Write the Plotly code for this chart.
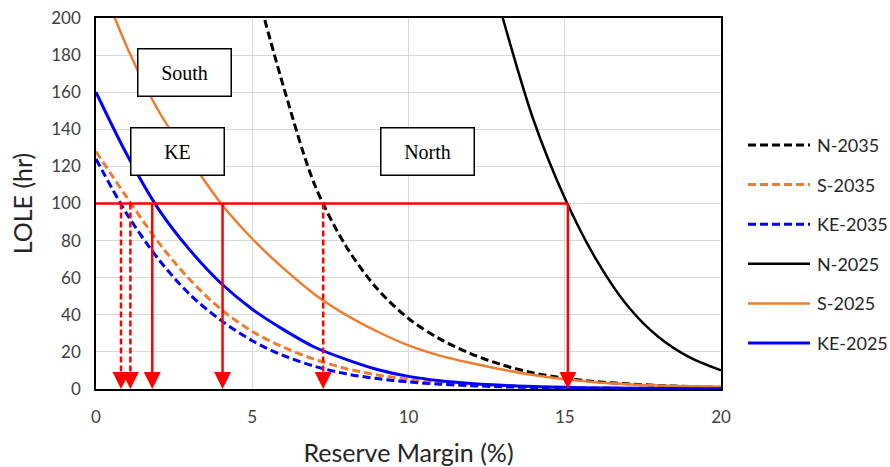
import plotly.graph_objects as go

# Reserve margin (%) grid shared by all curves
reserve_margin = list(range(21))

# LOLE (hr) for each region / study year; None where the curve is off the chart
n_2035 = [None, None, None, None, None, 224, 163, 110, 77, 54, 38, 27, 19, 13, 8.7, 5.8, 4, 2.8, 1.9, 1.3, 0.9]
s_2035 = [128, 103, 79, 59, 43, 31, 22.5, 16, 11, 7.6, 5.2, 3.6, 2.5, 1.7, 1.2, 0.8, 0.6, 0.4, 0.3, 0.2, 0.1]
ke_2035 = [124, 94, 70, 51, 37, 26, 18, 12.2, 8.2, 5.6, 3.8, 2.6, 1.8, 1.2, 0.8, 0.5, 0.4, 0.3, 0.2, 0.1, 0.1]
n_2025 = [None] * 13 + [201, 145, 103, 70, 45, 28, 17, 10]
s_2025 = [226, 184, 150, 124, 100, 81, 65, 51, 40, 31, 23.5, 18, 14, 10.5, 7.5, 5.2, 3.6, 2.6, 1.9, 1.5, 1.2]
ke_2025 = [160, 126, 97, 75, 57, 43, 32, 22.5, 16, 10.5, 6.8, 4.5, 3, 2, 1.3, 0.9, 0.6, 0.4, 0.3, 0.2, 0.1]

series_names = ["N-2035", "S-2035", "KE-2035", "N-2025", "S-2025", "KE-2025"]
series_values = [n_2035, s_2035, ke_2035, n_2025, s_2025, ke_2025]
series_colors = ["#000000", "#ED7D31", "#0000FF", "#000000", "#ED7D31", "#0000FF"]
series_dashed = [True, True, True, False, False, False]
series_widths = [3, 3, 3, 2.5, 2.5, 3]

# Reserve margin needed to reach the 100 hr LOLE criterion
criterion_lole = 100
required_margin = [0.8, 1.1, 1.8, 4.05, 7.27, 15.1]
required_dashed = [True, True, False, False, True, False]

# Region labels and their positions on the chart
region_labels = ["South", "KE", "North"]
region_x = [2.82, 2.61, 10.61]
region_y = [170.4, 128.3, 128.3]

RED = "#FF0000"
DASH = "8px,4px"

fig = go.Figure()

for name, vals, col, dashed, w in zip(series_names, series_values, series_colors,
                                       series_dashed, series_widths):
    fig.add_trace(go.Scatter(
        x=reserve_margin, y=vals, mode="lines", name=name,
        line=dict(color=col, width=w, dash=DASH if dashed else "solid",
                  shape="spline", smoothing=0.9),
        showlegend=False, hoverinfo="skip",
    ))

shapes = []
annotations = []

# Horizontal criterion line
shapes.append(dict(type="line", xref="x", yref="y", x0=0, x1=max(required_margin),
                   y0=criterion_lole, y1=criterion_lole,
                   line=dict(color=RED, width=2.5)))

# Drop lines with arrow heads down to the margin axis
for m, dashed in zip(required_margin, required_dashed):
    shapes.append(dict(type="line", xref="x", yref="y", x0=m, x1=m,
                       y0=criterion_lole, y1=4,
                       line=dict(color=RED, width=2.5,
                                 dash="6px,3px" if dashed else "solid")))
    annotations.append(dict(x=m, y=0, xref="x", yref="y", text="",
                            showarrow=True, ax=0, ay=-17,
                            arrowhead=2, arrowsize=1.7, arrowwidth=2,
                            arrowcolor=RED))

# Region label boxes
for lab, lx, ly in zip(region_labels, region_x, region_y):
    annotations.append(dict(x=lx, y=ly, xref="x", yref="y", text=lab,
                            showarrow=False, width=88, height=42,
                            bgcolor="white", bordercolor="black",
                            borderwidth=1.5, borderpad=2,
                            font=dict(family="Liberation Serif", size=20,
                                      color="black")))

# Legend drawn at the right of the plot
plot_left, plot_right, plot_top, plot_bottom = 96, 721, 18, 389
pw = plot_right - plot_left
ph = plot_bottom - plot_top


def px_x(p):
    return (p - plot_left) / pw


def px_y(p):
    return 1 - (p - plot_top) / ph


for i, (name, col, dashed, w) in enumerate(zip(series_names, series_colors,
                                                series_dashed, series_widths)):
    row = 145 + i * 39.6
    shapes.append(dict(type="line", xref="paper", yref="paper",
                       x0=px_x(748), x1=px_x(810), y0=px_y(row), y1=px_y(row),
                       line=dict(color=col, width=w,
                                 dash=DASH if dashed else "solid")))
    annotations.append(dict(x=px_x(815), y=px_y(row), xref="paper", yref="paper",
                            text=name, showarrow=False, xanchor="left",
                            yanchor="middle",
                            font=dict(family="Lato", size=18, color="#262626")))

fig.update_layout(
    width=890, height=467,
    margin=dict(l=plot_left, r=890 - plot_right, t=plot_top, b=467 - plot_bottom),
    paper_bgcolor="white", plot_bgcolor="white",
    shapes=shapes, annotations=annotations,
    showlegend=False,
    font=dict(family="Lato", color="#404040"),
)

fig.update_xaxes(
    range=[0, 20], dtick=5, tick0=0, automargin=False,
    showgrid=True, gridcolor="#D9D9D9", gridwidth=1,
    showline=True, linecolor="black", linewidth=1.5, mirror=True,
    zeroline=False, ticks="", ticklabelstandoff=12,
    tickfont=dict(family="Lato", size=17, color="#404040"),
    title=dict(text="Reserve Margin (%)", standoff=19,
               font=dict(family="Lato", size=25, color="#262626")),
)
fig.update_yaxes(
    range=[0, 200], dtick=20, tick0=0, automargin=False,
    showgrid=True, gridcolor="#D9D9D9", gridwidth=1,
    showline=True, linecolor="black", linewidth=1.5, mirror=True,
    zeroline=False, ticks="", ticklabelstandoff=10,
    tickfont=dict(family="Lato", size=17, color="#404040"),
    title=dict(text="LOLE (hr)", standoff=12,
               font=dict(family="Lato", size=25, color="#262626")),
)

fig.write_html("out.html")
